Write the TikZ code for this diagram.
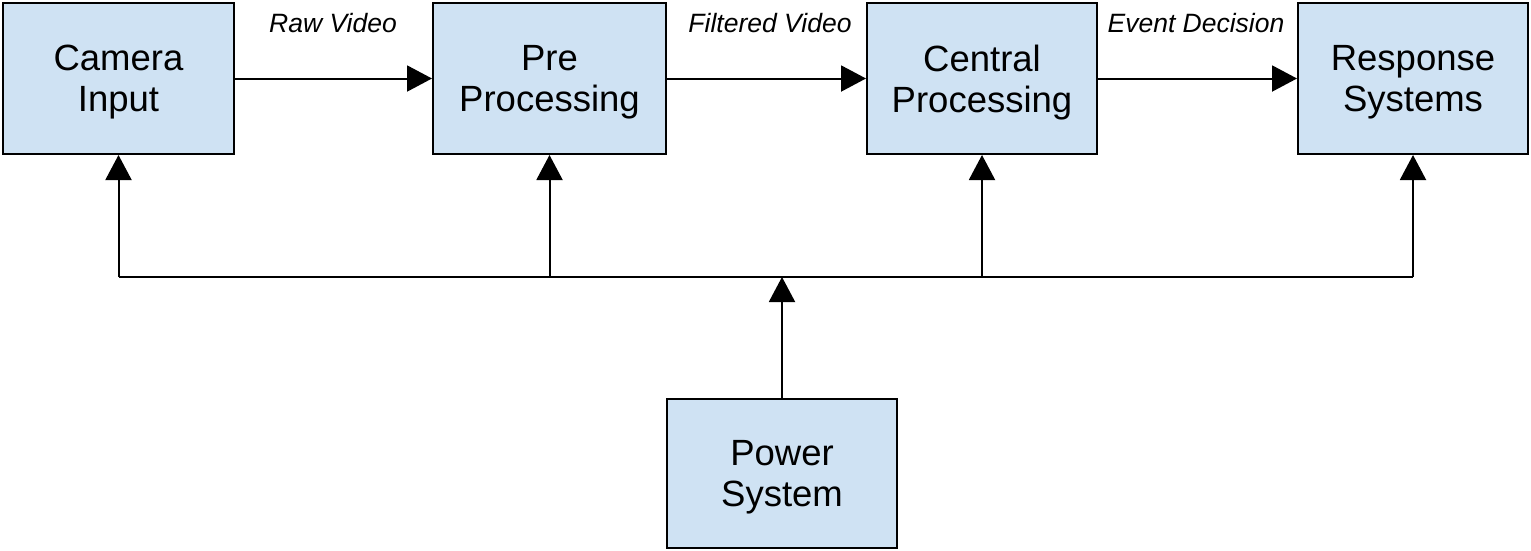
\documentclass[tikz,border=0pt]{standalone}
\usepackage{fontspec}
\setmainfont{Liberation Sans}
\usetikzlibrary{arrows.meta}
\definecolor{boxblue}{HTML}{CFE2F3}
\begin{document}
\begin{tikzpicture}[x=1pt,y=-1pt,
  box/.style={draw=black, line width=2pt, fill=boxblue, minimum width=231pt, minimum height=151pt, inner sep=0pt, align=center, text depth=0pt, font=\fontsize{36.5}{41}\selectfont},
  conn/.style={line width=2pt, -{Triangle[length=25pt,width=26pt]}},
  busline/.style={line width=2pt},
  lbl/.style={font=\fontsize{26.5}{30}\selectfont\itshape, inner sep=0pt}]
\useasboundingbox (0,0) rectangle (1531,550);
\node[box] (cam) at (118.5,78.5) {Camera\\Input};
\node[box, minimum width=233pt] (pre) at (549.5,78.5) {Pre\\Processing};
\node[box, minimum width=230pt] (cen) at (982,78.5) {Central\\Processing};
\node[box, minimum width=230pt] (res) at (1413,78.5) {Response\\Systems};
\node[box, minimum width=230pt, minimum height=149pt] (pow) at (782,473.5) {Power\\System};
\coordinate (bus) at (782,277);
\node[lbl] (l1) at (333,23) {Raw Video};
\node[lbl] (l2) at (770,23) {Filtered Video};
\node[lbl] (l3) at (1196,23) {Event Decision};
\draw[conn] (cam.east) -- (pre.west);
\draw[conn] (pre.east) -- (cen.west);
\draw[conn] (cen.east) -- (res.west);
\draw[busline] (cam.south |- bus) -- (res.south |- bus);
\draw[conn] (cam.south |- bus) -- (cam.south);
\draw[conn] (pre.south |- bus) -- (pre.south);
\draw[conn] (cen.south |- bus) -- (cen.south);
\draw[conn] (res.south |- bus) -- (res.south);
\draw[conn] (pow.north) -- (bus);
\end{tikzpicture}
\end{document}
